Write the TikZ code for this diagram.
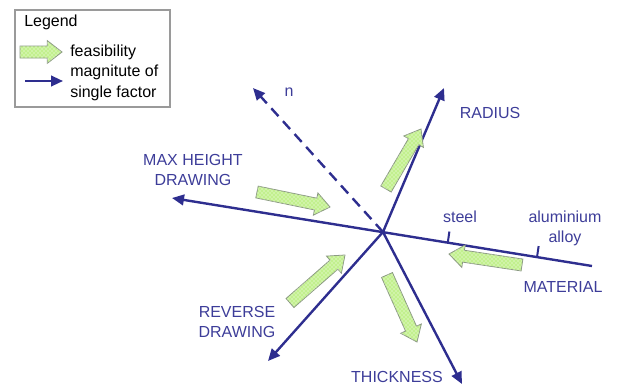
\documentclass[tikz,border=0pt]{standalone}
\usepackage{fontspec}
\setmainfont{Liberation Sans}
\usetikzlibrary{arrows.meta,calc,patterns}
\definecolor{axis}{HTML}{2E2E8F}
\definecolor{lbl}{HTML}{3D3D99}
\definecolor{feasfill}{HTML}{C2F08E}
\definecolor{feasedge}{HTML}{8C9A84}
\definecolor{boxedge}{HTML}{9A9A9A}

% fat feasibility arrow: #1 tail, #2 tip
\newcommand{\feasarrow}[2]{%
  \coordinate (fa-t) at (#1);
  \coordinate (fa-h) at (#2);
  \coordinate (fa-b) at ($(fa-h)!11pt!(fa-t)$);
  \path[feas] ($(fa-t)!4.5pt!90:(fa-h)$) -- ($(fa-b)!4.5pt!90:(fa-h)$)
    -- ($(fa-b)!8.5pt!90:(fa-h)$) -- (fa-h) -- ($(fa-b)!8.5pt!-90:(fa-h)$)
    -- ($(fa-b)!4.5pt!-90:(fa-h)$) -- ($(fa-t)!4.5pt!-90:(fa-h)$) -- cycle;
}

\begin{document}
\begin{tikzpicture}[x=0.75pt,y=-0.75pt,
    ax/.style={axis,line width=1.8pt},
    ar/.style={ax,-{Triangle[length=9pt,width=8pt]}},
    lab/.style={text=lbl,font=\fontsize{12}{15}\selectfont,align=center,inner sep=0pt},
    leg/.style={text=black,font=\fontsize{12}{15.5}\selectfont,align=left,inner sep=0pt,anchor=west},
    feas/.style={draw=feasedge,line width=0.6pt,fill=feasfill,
      postaction={pattern=crosshatch dots,pattern color=white}},
  ]
  \useasboundingbox (0,0) rectangle (622,387);

  % legend
  \draw[boxedge,line width=0.8pt] (15,10) rectangle (170,107);
  \node[leg] (legtitle) at (24,22) {Legend};
  \feasarrow{20,52}{62,52}
  \node[leg] (legfeas) at (70,52) {feasibility};
  \coordinate (lega) at (25,81);
  \coordinate (legb) at (63,81);
  \draw[ar,line width=1.6pt] (lega) -- (legb);
  \node[leg] (legmag) at (70,83) {magnitute of\\single factor};

  % axes
  \coordinate (o) at (383,232);
  \coordinate (rad) at (444,88);
  \coordinate (mh) at (172,198);
  \coordinate (mat) at (592,266);
  \coordinate (rev) at (268,361);
  \coordinate (thk) at (462,384);
  \coordinate (nn) at (253,88);

  \draw[ar] (o) -- (rad);
  \draw[ar] (mat) -- (mh);
  \draw[ar] (o) -- (rev);
  \draw[ar] (o) -- (thk);
  \draw[ar,dash pattern=on 8pt off 5pt] (o) -- (nn);

  % material ticks
  \coordinate (steel) at ($(o)!0.31!(mat)$);
  \coordinate (alu) at ($(o)!0.737!(mat)$);
  \draw[ax,line width=1.5pt] (steel) -- ++(1.6,-11);
  \draw[ax,line width=1.5pt] (alu) -- ++(1.6,-11);

  % labels
  \node[lab] (ln) at (289,92) {n};
  \node[lab] (lrad) at (490,113) {RADIUS};
  \node[lab] (lmh) at (193,170) {MAX HEIGHT\\DRAWING};
  \node[lab] (lsteel) at (460,217) {steel};
  \node[lab] (lalu) at (565,228) {aluminium\\alloy};
  \node[lab] (lmat) at (563,287) {MATERIAL};
  \node[lab] (lrev) at (237,322) {REVERSE\\DRAWING};
  \node[lab] (lthk) at (397,377) {THICKNESS};

  % feasibility arrows
  \feasarrow{257,192}{330,207}
  \feasarrow{386,189}{421,129}
  \feasarrow{522,265}{449,254}
  \feasarrow{290,303}{345,255}
  \feasarrow{387,275}{417,342}
\end{tikzpicture}
\end{document}
